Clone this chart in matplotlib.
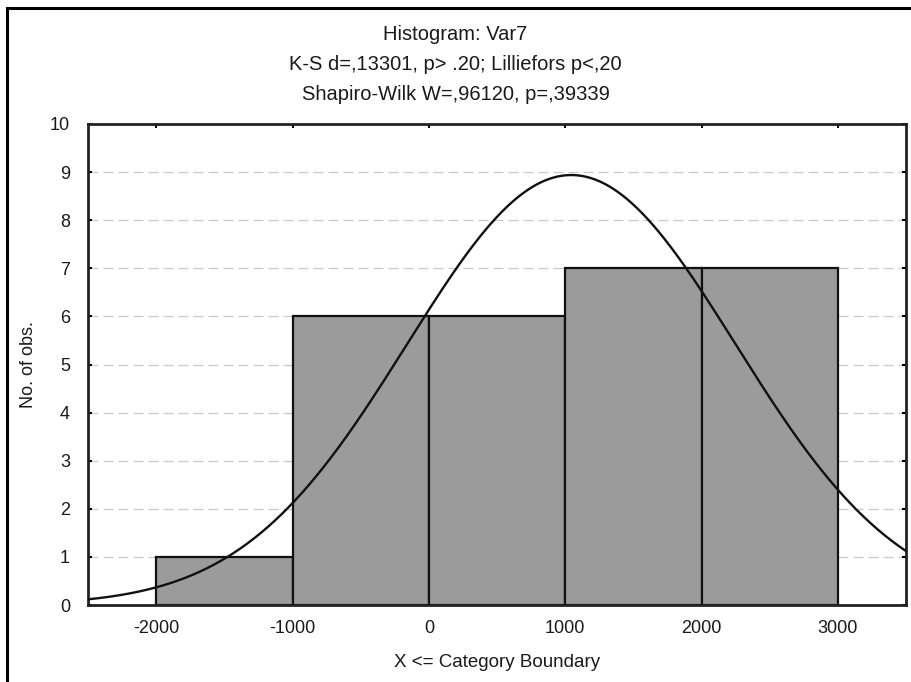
import numpy as np
import matplotlib
matplotlib.use("Agg")
import matplotlib.pyplot as plt
from matplotlib.patches import Rectangle

# Data
bin_edges = [-2000, -1000, 0, 1000, 2000, 3000]
counts = [1, 6, 6, 7, 7]
fit_mean = 1045.0
fit_sd = 1205.0
n_obs = sum(counts)
bin_width = 1000.0

x_ticks = [-2000, -1000, 0, 1000, 2000, 3000]
y_ticks = list(range(0, 11))

title_lines = ["Histogram: Var7",
               "K-S d=,13301, p> .20; Lilliefors p<,20",
               "Shapiro-Wilk W=,96120, p=,39339"]

plt.rcParams['font.family'] = ['Liberation Sans', 'DejaVu Sans']
plt.rcParams['axes.unicode_minus'] = False

fig = plt.figure(figsize=(9.11, 6.82), dpi=100)
W, H = 911, 682
ax = fig.add_axes([88 / W, 1 - 605 / H, (906 - 88) / W, (605 - 124) / H])

# Figure frame
fig.patches.append(Rectangle((7 / W, -0.05), 1.0, 1 - 8 / H + 0.05,
                             transform=fig.transFigure, fill=False,
                             edgecolor='black', linewidth=2.2))

# Grid
for yv in y_ticks[1:-1]:
    ax.axhline(yv, color='#c8c8c8', linestyle=(0, (8, 4)), linewidth=0.9, zorder=0)

# Bars
lefts = bin_edges[:-1]
widths = np.diff(bin_edges)
ax.bar(lefts, counts, width=widths, align='edge', color='#9b9b9b',
       edgecolor='#111111', linewidth=1.6, zorder=2)

# Normal fit curve
xs = np.linspace(-2500, 3500, 600)
ys = n_obs * bin_width / (fit_sd * np.sqrt(2 * np.pi)) * np.exp(-0.5 * ((xs - fit_mean) / fit_sd) ** 2)
ax.plot(xs, ys, color='#111111', linewidth=1.7, zorder=3)

ax.set_xlim(-2500, 3500)
ax.set_ylim(0, 10)
ax.set_xticks(x_ticks)
ax.set_yticks(y_ticks)
ax.tick_params(axis='both', direction='in', length=3, width=1.5, labelsize=13,
               top=True, right=True, labelcolor='#1a1a1a')
ax.tick_params(axis='x', pad=11)
ax.tick_params(axis='y', pad=13)
for s in ax.spines.values():
    s.set_linewidth(2.0)
    s.set_color('#222222')

ax.set_xlabel("X <= Category Boundary", fontsize=13.5, labelpad=12, color='#1a1a1a')
ax.set_ylabel("No. of obs.", fontsize=13, labelpad=9, color='#1a1a1a')

for i, t in enumerate(title_lines):
    fig.text(0.5, 1 - (35 + 29.5 * i) / H, t, ha='center', va='center',
             fontsize=14.5, color='#1a1a1a')

fig.savefig("out.png", dpi=100)
